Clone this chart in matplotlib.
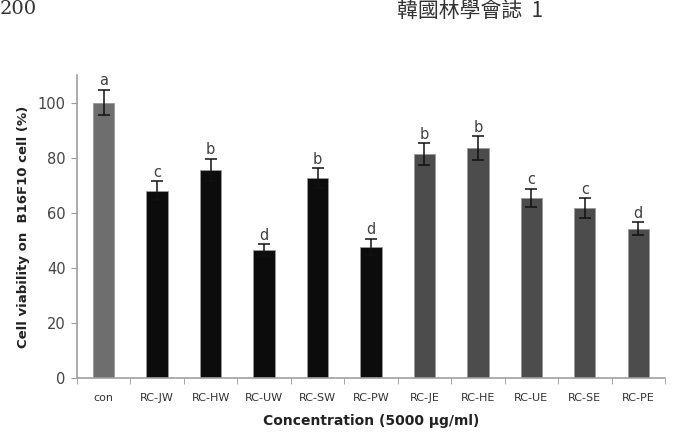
import numpy as np
import matplotlib.pyplot as plt

categories = ['con', 'RC-JW', 'RC-HW', 'RC-UW', 'RC-SW', 'RC-PW',
              'RC-JE', 'RC-HE', 'RC-UE', 'RC-SE', 'RC-PE']
viability = [100, 68, 75.6, 46.5, 72.6, 47.5, 81.3, 83.5, 65.3, 61.7, 54.2]
errors = [4.6, 3.4, 4.0, 2.1, 3.6, 3.0, 4.0, 4.3, 3.3, 3.6, 2.4]
letters = ['a', 'c', 'b', 'd', 'b', 'd', 'b', 'b', 'c', 'c', 'd']
bar_colors = ['#6e6e6e'] + ['#0c0c0c'] * 5 + ['#4c4c4c'] * 5

fig = plt.figure(figsize=(6.74, 4.32), dpi=100)
ax = fig.add_axes([0.1142, 0.125, 0.8724, 0.701])

x = np.arange(len(categories))
ax.bar(x, viability, width=0.4, color=bar_colors, edgecolor='#9a9a9a', linewidth=0.6)
ax.errorbar(x, viability, yerr=errors, fmt='none', ecolor='#111111',
            elinewidth=1.1, capsize=4, capthick=1.1)
for xi, v, e, l in zip(x, viability, errors, letters):
    ax.text(xi, v + e + 0.6, l, ha='center', va='bottom', fontsize=10.5, color='#404040')

ax.set_xlim(-0.5, len(categories) - 0.5)
ax.set_ylim(0, 110)
ax.set_yticks([0, 20, 40, 60, 80, 100])
ax.set_xticks(x)
ax.set_xticklabels(categories)
ax.set_xticks(np.arange(-0.5, len(categories)), minor=True)
ax.tick_params(axis='x', which='major', length=0, pad=11, labelsize=8, labelcolor='#333333')
ax.tick_params(axis='x', which='minor', length=4, color='#999999', direction='out')
ax.tick_params(axis='y', length=4, color='#999999', labelsize=10.5, labelcolor='#444444', pad=4)

for s in ['top', 'right']:
    ax.spines[s].set_visible(False)
for s in ['left', 'bottom']:
    ax.spines[s].set_color('#a0a0a0')
    ax.spines[s].set_linewidth(1.2)

ax.set_xlabel('Concentration (5000 μg/ml)', fontsize=10, fontweight='bold',
              color='#222222', labelpad=8)
ax.set_ylabel('Cell viability on  B16F10 cell (%)', fontsize=9.5, fontweight='bold',
              color='#222222', labelpad=6)

# page header
fig.text(0.0, 1.0, '200', fontsize=14, family='DejaVu Serif', color='#333333',
         ha='left', va='top')
fig.text(0.589, 1.0, '韓國林學會誌  1', fontsize=15,
         family=['Noto Sans CJK TC', 'DejaVu Sans'], color='#333333', ha='left', va='top')

fig.savefig('out.png', dpi=100)
